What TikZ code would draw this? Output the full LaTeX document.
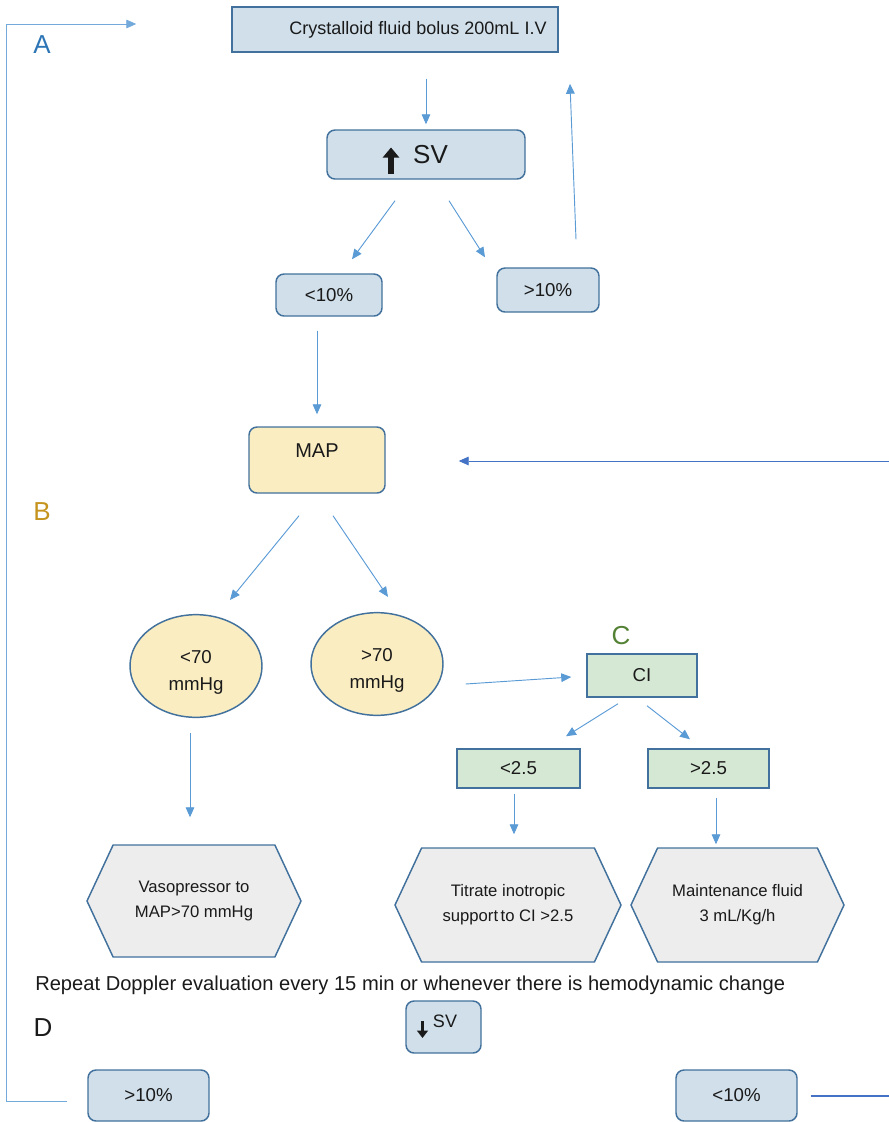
\documentclass[tikz,border=0pt]{standalone}
\usepackage{fontspec}
\setmainfont{Liberation Sans}
\usetikzlibrary{arrows.meta,shapes.geometric,shapes.symbols}

\definecolor{boxblue}{HTML}{D0DFEA}
\definecolor{edgeblue}{HTML}{41719C}
\definecolor{arrowblue}{HTML}{5B9BD5}
\definecolor{darkblue}{HTML}{4472C4}
\definecolor{mapyellow}{HTML}{FAEDC2}
\definecolor{cigreen}{HTML}{D5E8D4}
\definecolor{hexgrey}{HTML}{EDEDED}
\definecolor{labelA}{HTML}{2E75B6}
\definecolor{labelB}{HTML}{C5941F}
\definecolor{labelC}{HTML}{548235}
\definecolor{ink}{HTML}{1A1A1A}

\begin{document}
\begin{tikzpicture}[x=0.75pt,y=-0.75pt,
			flow/.style={-{Triangle[length=7.5pt,width=6.5pt]},draw=arrowblue,line width=0.7pt},
			box/.style={draw=edgeblue,line width=1.1pt,fill=boxblue,text=ink,inner sep=0pt},
			round box/.style={box,rounded corners=6pt},
			map node/.style={round box,fill=mapyellow},
			ci node/.style={box,fill=cigreen},
			mm node/.style={ellipse,draw=edgeblue,line width=1.1pt,fill=mapyellow,text=ink,
				minimum width=99pt,minimum height=77pt,inner sep=0pt,align=center,
				font=\fontsize{14}{20.25}\selectfont},
			hex node/.style={signal,signal to=west and east,signal pointer angle=130,
				draw=edgeblue,line width=1.1pt,fill=hexgrey,text=ink,inner sep=0pt,align=center,
				font=\fontsize{12.5}{18.5}\selectfont},
			letter/.style={font=\fontsize{19.5}{20}\selectfont,inner sep=0pt}]
			\useasboundingbox (0,0) rectangle (889,1122);

			% A: fluid challenge
			\node[box,minimum width=244.5pt,minimum height=33.75pt,font=\fontsize{13.5}{16}\selectfont] (fluid) at (395,29.5) {\hspace*{34.5pt}Crystalloid fluid bolus 200mL I.V};
			\node[round box,minimum width=148.5pt,minimum height=36.75pt,font=\fontsize{19.5}{22}\selectfont] (sv) at (426,154.5) {\hspace*{6.75pt}SV};
			\draw[-{Triangle[length=7.5pt,width=12pt]},line width=4pt,ink] ([shift={(-35,19)}]sv.center) -- ([shift={(-35,-7)}]sv.center);
			\node[round box,minimum width=79.5pt,minimum height=31.5pt,font=\fontsize{14}{16}\selectfont] (low) at (329,295) {<10\%};
			\node[round box,minimum width=76.5pt,minimum height=33pt,font=\fontsize{14}{16}\selectfont] (high) at (548,290) {>10\%};
			\node[letter,text=labelA] (A) at (42,45) {A};

			% B: mean arterial pressure
			\node[map node,minimum width=102pt,minimum height=49.5pt,font=\fontsize{15}{17}\selectfont,text depth=14pt] (map) at (317,460) {MAP};
			\node[mm node] (lo70) at (196,666) {\rule{0pt}{20pt}<70\\mmHg};
			\node[mm node] (hi70) at (377,664) {\rule{0pt}{20pt}>70\\mmHg};
			\node[hex node,minimum width=160.5pt,minimum height=84pt] (vaso) at (194,901) {Vasopressor to\\MAP>70 mmHg};
			\node[letter,text=labelB] (B) at (42,512) {B};
			\coordinate (rin) at (889,461);

			% C: cardiac index
			\node[ci node,minimum width=82.5pt,minimum height=32.25pt,font=\fontsize{14}{16}\selectfont] (ci) at (642,675.5) {CI};
			\node[ci node,minimum width=92.25pt,minimum height=29.25pt,font=\fontsize{14}{16}\selectfont] (cilow) at (518.5,768.5) {<2.5};
			\node[ci node,minimum width=90.75pt,minimum height=29.25pt,font=\fontsize{14}{16}\selectfont] (cihigh) at (708.5,768.5) {>2.5};
			\node[hex node,minimum width=169.5pt,minimum height=85.5pt] (ino) at (508,905) {Titrate inotropic\\support\hspace{0.15em}to CI >2.5};
			\node[hex node,minimum width=159.75pt,minimum height=85.5pt] (maint) at (737.5,905) {Maintenance fluid\\3 mL/Kg/h};
			\node[letter,text=labelC] (C) at (621,636) {C};

			% D: re-evaluation
			\node[font=\fontsize{15.1}{18}\selectfont,text=ink,anchor=west,inner sep=0pt] (repeat) at (35,985) {Repeat Doppler evaluation every 15 min or whenever there is hemodynamic change};
			\node[letter,text=ink] (D) at (43,1028) {D};
			\node[round box,minimum width=56.25pt,minimum height=39pt] (dsv) at (443.5,1027) {};
			\node[font=\fontsize{13.5}{16}\selectfont,text=ink,inner sep=0pt] (dsvtext) at (445,1021) {SV};
			\draw[-{Triangle[length=5.5pt,width=8pt]},line width=2.6pt,ink] ([shift={(-21,-6)}]dsv.center) -- ([shift={(-21,11)}]dsv.center);
			\node[round box,minimum width=90.75pt,minimum height=38.25pt,font=\fontsize{14}{16}\selectfont] (rhigh) at (148.5,1095.5) {>10\%};
			\node[round box,minimum width=90.75pt,minimum height=38.25pt,font=\fontsize{14}{16}\selectfont] (rlow) at (736.5,1095.5) {<10\%};
			\coordinate (rout) at (889,1096);

			% connectors
			\draw[flow] ([shift={(31,26)}]fluid.south) -- ([shift={(0,-5)}]sv.north);
			\draw[flow] ([shift={(-31,21)}]sv.south) -- ([shift={(23,-14)}]low.north);
			\draw[flow] ([shift={(23,21)}]sv.south) -- ([shift={(-63,-10)}]high.north);
			\draw[flow] ([shift={(28,-28)}]high.north) -- ([shift={(175,31)}]fluid.south);
			\draw[flow] ([shift={(-12,14)}]low.south) -- ([shift={(0,-12)}]map.north);
			\draw[flow,draw=darkblue] (rin) -- ([shift={(73,1)}]map.east);
			\draw[flow] ([shift={(-18,22)}]map.south) -- ([shift={(34,-14)}]lo70.north);
			\draw[flow] ([shift={(16,22)}]map.south) -- ([shift={(11,-15)}]hi70.north);
			\draw[flow] ([shift={(-6,15)}]lo70.south) -- ([shift={(-4,-27)}]vaso.north);
			\draw[flow] ([shift={(22,20)}]hi70.east) -- ([shift={(-15,1.5)}]ci.west);
			\draw[flow] ([shift={(-24,6)}]ci.south) -- ([shift={(47.5,-12)}]cilow.north);
			\draw[flow] ([shift={(5,8)}]ci.south) -- ([shift={(-18.5,-9)}]cihigh.north);
			\draw[flow] ([shift={(-4.5,5)}]cilow.south) -- ([shift={(6,-13)}]ino.north);
			\draw[flow] ([shift={(7.5,9)}]cihigh.south) -- ([shift={(-21.5,-3)}]maint.north);
			\draw[flow,draw=arrowblue!85] ([shift={(-20,5.5)}]rhigh.west) -- ++(-61,0) |- ([shift={(-95,-5.5)}]fluid.west);
			\draw[darkblue,line width=0.9pt] ([shift={(13,0.5)}]rlow.east) -- (rout);
\end{tikzpicture}
\end{document}
